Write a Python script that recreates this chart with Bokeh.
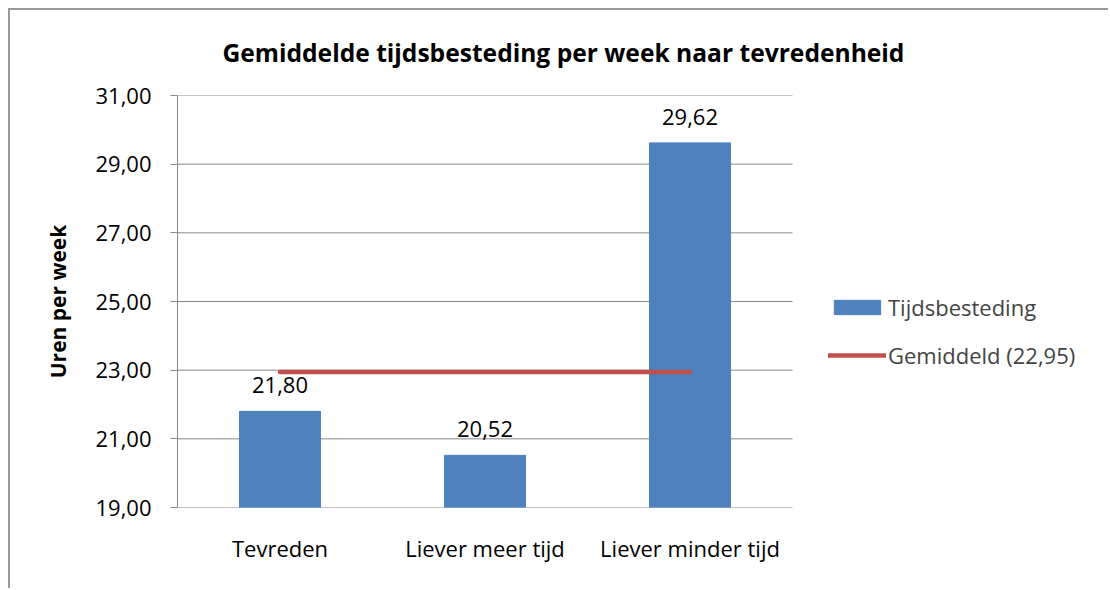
from bokeh.plotting import figure
from bokeh.models import ColumnDataSource, FixedTicker, Legend, LegendItem, LabelSet, Range1d
from bokeh.core.properties import value
from bokeh.embed import file_html
from bokeh.resources import INLINE

categories = ["Tevreden", "Liever meer tijd", "Liever minder tijd"]
values = [21.80, 20.52, 29.62]
mean_value = 22.95
y_ticks = [19, 21, 23, 25, 27, 29, 31]
title_text = "Gemiddelde tijdsbesteding per week naar tevredenheid"
y_title = "Uren per week"
bar_label = "Tijdsbesteding"
mean_label = "Gemiddeld (22,95)"

FONT = "Open Sans"
GRID = "#878787"

W, H = 1100, 580
LEFT, TOP, BOTTOM = 167, 85, 83
CAT_PX = 205  # pixel width of one category slot

def fmt(v):
    return f"{v:.2f}".replace(".", ",")

n = len(categories)
xs = [i + 0.5 for i in range(n)]
src = ColumnDataSource(dict(x=xs, val=values, lab=[fmt(v) for v in values]))

frame_w = W - LEFT
p = figure(x_range=Range1d(0, frame_w / CAT_PX),
           y_range=Range1d(y_ticks[0], y_ticks[-1]), width=W, height=H,
           output_backend="svg", toolbar_location=None,
           min_border_left=LEFT, min_border_right=0, min_border_top=TOP, min_border_bottom=BOTTOM)
p.styles = {"border-left": "2px solid #9a9a9a", "border-top": "2px solid #9a9a9a",
            "margin-left": "8px", "margin-top": "8px"}

p.title.text = title_text
p.title.text_font = FONT
p.title.text_font_size = "24.6px"
p.title.text_font_style = "bold"
p.title.align = "left"
p.title.vertical_align = "top"
p.title.offset = 45
p.title.standoff = 50
p.title.text_color = "black"

p.outline_line_color = None
p.background_fill_color = "white"
p.border_fill_color = "white"
p.xgrid.grid_line_color = None
p.ygrid.grid_line_color = None

# horizontal gridlines spanning the category domain only
p.segment(x0=0, x1=n, y0=y_ticks, y1=y_ticks, line_color=GRID, line_width=1)

bars = p.vbar(x="x", top="val", bottom=y_ticks[0], width=0.395, source=src,
              fill_color="#4F81BD", line_color="#4F81BD")
line = p.line(x=[xs[0], xs[-1]], y=[mean_value, mean_value],
              line_color="#C0504D", line_width=4.5, line_cap="round")

labels = LabelSet(x="x", y="val", text="lab", source=src, text_align="center",
                  text_baseline="middle", y_offset=26, text_font_size="22px",
                  text_font=value(FONT), text_color="black")
p.add_layout(labels)

p.yaxis.ticker = FixedTicker(ticks=y_ticks)
p.yaxis.major_label_overrides = {t: fmt(t) for t in y_ticks}
p.yaxis.major_label_text_font = FONT
p.yaxis.major_label_text_font_size = "22px"
p.yaxis.major_label_text_color = "black"
p.yaxis.axis_line_color = GRID
p.yaxis.major_tick_line_color = GRID
p.yaxis.major_tick_in = 0
p.yaxis.major_tick_out = 7
p.yaxis.minor_tick_line_color = None
p.yaxis.major_label_standoff = 19
p.yaxis.axis_label = y_title
p.yaxis.axis_label_text_font = FONT
p.yaxis.axis_label_text_font_size = "21px"
p.yaxis.axis_label_text_font_style = "bold"
p.yaxis.axis_label_text_color = "black"
p.yaxis.axis_label_standoff = 20

p.xaxis.ticker = FixedTicker(ticks=xs)
p.xaxis.major_label_overrides = {x: c for x, c in zip(xs, categories)}
p.xaxis.axis_line_color = None
p.xaxis.major_tick_line_color = None
p.xaxis.minor_tick_line_color = None
p.xaxis.major_label_text_font = FONT
p.xaxis.major_label_text_font_size = "22px"
p.xaxis.major_label_text_color = "black"
p.xaxis.major_label_standoff = 19

legend = Legend(items=[LegendItem(label=bar_label, renderers=[bars]),
                       LegendItem(label=mean_label, renderers=[line])],
                location=(651, 137), border_line_color=None, background_fill_alpha=0,
                glyph_width=58, glyph_height=18, spacing=18, padding=0, margin=0,
                label_text_font=FONT, label_text_font_size="22px", label_standoff=2)
p.add_layout(legend, "center")

open("out.html", "w").write(file_html(p, INLINE))
